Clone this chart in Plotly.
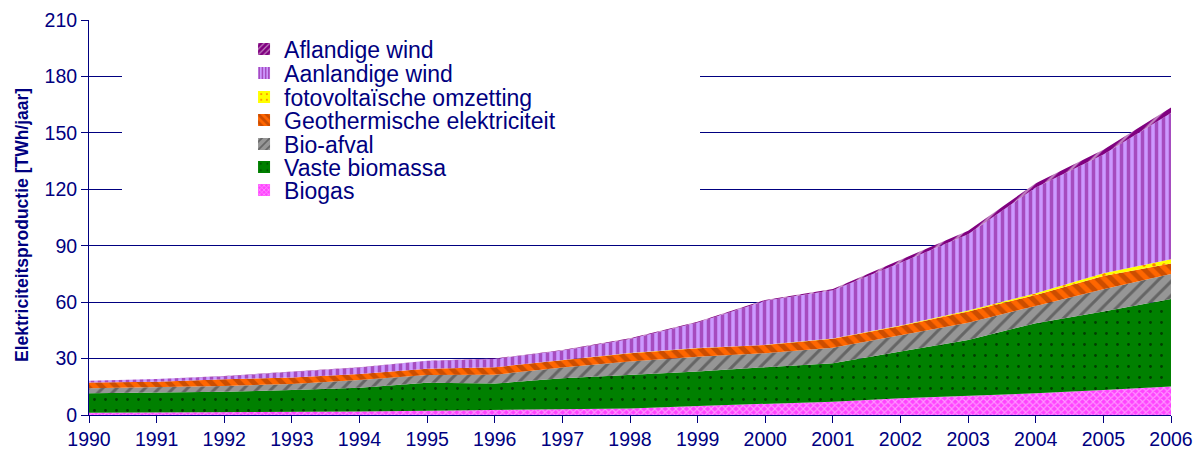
import plotly.graph_objects as go

years = list(range(1990, 2007))
biogas = [1.2, 1.3, 1.4, 1.6, 1.9, 2.3, 2.6, 3.0, 3.5, 4.8, 5.9, 7.1, 8.9, 10.1, 11.5, 13.3, 15.1]
vaste_biomassa = [10.3, 10.6, 11.0, 11.7, 12.6, 14.9, 14.1, 16.5, 17.8, 18.3, 19.5, 20.4, 24.8, 29.8, 37.3, 41.7, 46.6]
bio_afval = [2.7, 2.8, 3.0, 3.2, 4.1, 4.1, 4.7, 5.7, 7.1, 7.9, 7.4, 8.3, 8.9, 9.2, 9.2, 11.9, 13.3]
geothermisch = [3.1, 3.0, 3.6, 3.5, 3.2, 3.3, 4.0, 4.1, 4.4, 4.5, 4.4, 4.7, 4.7, 5.9, 5.8, 7.0, 5.5]
fotovoltaisch = [0.0, 0.0, 0.0, 0.0, 0.0, 0.0, 0.0, 0.0, 0.1, 0.1, 0.1, 0.2, 0.3, 0.5, 0.9, 1.5, 2.3]
aanlandig = [0.9, 1.4, 1.6, 2.8, 3.5, 4.2, 4.4, 5.0, 7.5, 13.6, 23.4, 25.6, 33.3, 40.6, 56.3, 63.1, 77.7]
aflandig = [0.0, 0.0, 0.1, 0.1, 0.1, 0.1, 0.2, 0.3, 0.4, 0.4, 0.5, 0.7, 1.5, 1.9, 2.2, 2.5, 3.0]

y_ticks = [0, 30, 60, 90, 120, 150, 180, 210]
y_title = "Elektriciteitsproductie [TWh/jaar]"

NAVY = "#000080"
FONT = "Liberation Sans, Arial, sans-serif"

series = [
    ("Biogas", biogas, dict(shape="x", bgcolor="#FF44FF", fgcolor="#FFE8FF", size=5, solidity=0.4)),
    ("Vaste biomassa", vaste_biomassa, dict(shape=".", bgcolor="#008000", fgcolor="#000000", size=11, solidity=0.05)),
    ("Bio-afval", bio_afval, dict(shape="/", bgcolor="#969696", fgcolor="#333333", size=10, solidity=0.3)),
    ("Geothermische elektriciteit", geothermisch, dict(shape="\\", bgcolor="#FF6600", fgcolor="#993300", size=10, solidity=0.5)),
    ("fotovoltaïsche omzetting", fotovoltaisch, dict(shape=".", bgcolor="#FFFF00", fgcolor="#FF0000", size=10, solidity=0.1)),
    ("Aanlandige wind", aanlandig, dict(shape="|", bgcolor="#CC99FF", fgcolor="#800080", size=7, solidity=0.5)),
    ("Aflandige wind", aflandig, dict(shape="/", bgcolor="#800080", fgcolor="#FFFFFF", size=8, solidity=0.3)),
]

# legend row centres (paper fraction of plot height), top row = Aflandige wind
legend_rows = [0.5696, 0.6278, 0.6861, 0.7468, 0.8051, 0.8658, 0.9266]

fig = go.Figure()
for name, vals, pat in series:
    fig.add_trace(go.Scatter(
        x=years, y=vals, name=name, mode="lines", legendgroup=name, showlegend=False,
        stackgroup="one", line=dict(width=0, color=pat["bgcolor"]),
        fillcolor=pat["bgcolor"], fillpattern=pat,
    ))

legend_layout = {}
for i, (name, vals, pat) in enumerate(series):
    key = "legend" if i == 0 else f"legend{i + 1}"
    fig.add_trace(go.Bar(
        x=[None], y=[None], name=name, legendgroup=name, showlegend=True,
        legend=key,
        marker=dict(color=pat["bgcolor"], line=dict(width=0),
                    pattern=dict(shape=pat["shape"], bgcolor=pat["bgcolor"], fgcolor=pat["fgcolor"],
                                 size=max(4, pat["size"] - 3), solidity=pat["solidity"])),
    ))
    legend_layout[key] = dict(
        x=0.1433, y=legend_rows[i], xanchor="left", yanchor="middle",
        bgcolor="rgba(0,0,0,0)", borderwidth=0,
        font=dict(size=23, color=NAVY, family=FONT), itemwidth=30,
    )

fig.update_layout(
    width=1193, height=452,
    margin=dict(l=89, r=22, t=20, b=37),
    paper_bgcolor="white", plot_bgcolor="white",
    font=dict(family=FONT, color=NAVY, size=17),
    showlegend=True,
    shapes=[dict(type="rect", xref="paper", yref="paper", x0=0.0305, x1=0.5647,
                 y0=0.55, y1=0.9, fillcolor="white", line=dict(width=0), layer="above")],
    annotations=[dict(text=f"<b>{y_title}</b>", xref="paper", yref="paper",
                      x=-0.0619, y=0.481, xanchor="center", yanchor="middle",
                      textangle=-90, showarrow=False,
                      font=dict(size=17.5, color=NAVY, family=FONT))],
    **legend_layout,
)
fig.update_xaxes(
    range=[1990, 2006], tickmode="array", tickvals=years, ticktext=[str(y) for y in years],
    ticks="outside", ticklen=7, tickcolor=NAVY, showline=True, linecolor=NAVY, linewidth=1,
    showgrid=False, zeroline=False, tickfont=dict(size=19.5, color=NAVY), automargin=False,
)
fig.update_yaxes(
    range=[0, 210], tickmode="array", tickvals=y_ticks,
    ticks="outside", ticklen=7, tickcolor=NAVY, showline=True, linecolor=NAVY, linewidth=1,
    showgrid=True, gridcolor=NAVY, gridwidth=1, zeroline=False, automargin=False,
    tickfont=dict(size=19.5, color=NAVY),
)

# remove the browser's default 8px body margin so the 1193x452 figure fills the window
fig.write_html(
    "out.html",
    config={"displayModeBar": False},
    post_script="document.body.style.margin='0';document.body.style.overflow='hidden';",
)
